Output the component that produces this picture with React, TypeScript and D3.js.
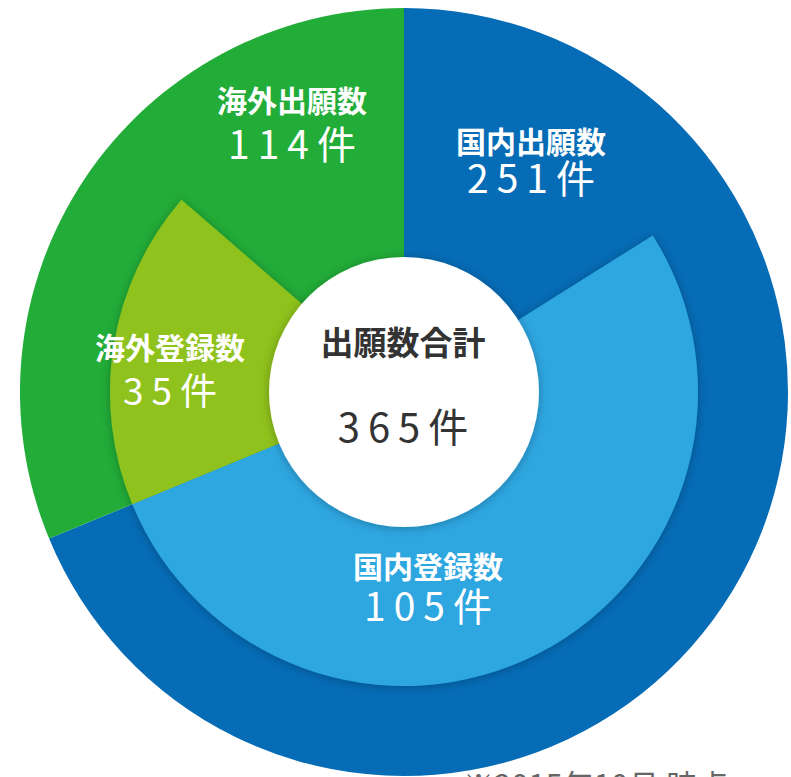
import { useEffect, useRef } from "react";
import * as d3 from "d3";

// applications (outer ring) and registrations (inner ring)
const applicationLabels = ["国内出願数", "海外出願数"];
const applicationValues = [251, 114];
const registrationLabels = ["国内登録数", "海外登録数"];
const registrationValues = [105, 35];
const totalLabel = "出願数合計";
const unit = "件";
const footnote = "※2015年10月 時点";

const outerColors = ["#066cb6", "#22ac38"];
const innerColors = ["#2ea6e0", "#8fc21f"];

export default function App() {
  const svgRef = useRef<SVGSVGElement>(null);
  const width = 791;
  const height = 777;

  useEffect(() => {
    if (!svgRef.current) return;

    const cx = 404;
    const cy = 392;
    const outerR = 384;
    const innerR = 294;
    const holeR = 135;

    d3.select(svgRef.current).selectAll("*").remove();
    const svg = d3
      .select(svgRef.current)
      .attr("width", width)
      .attr("height", height);

    const defs = svg.append("defs");
    const shadow = defs
      .append("filter")
      .attr("id", "shadow")
      .attr("x", "-20%")
      .attr("y", "-20%")
      .attr("width", "140%")
      .attr("height", "140%");
    shadow
      .append("feDropShadow")
      .attr("dx", 0)
      .attr("dy", 1)
      .attr("stdDeviation", 5)
      .attr("flood-color", "#000")
      .attr("flood-opacity", 0.28);

    const g = svg.append("g").attr("transform", `translate(${cx},${cy})`);

    // outer ring: applications
    const pie = d3.pie<number>().sort(null);
    const outerArcs = pie(applicationValues);
    const outerArc = d3
      .arc<d3.PieArcDatum<number>>()
      .innerRadius(0)
      .outerRadius(outerR);

    g.selectAll(".outer")
      .data(outerArcs)
      .enter()
      .append("path")
      .attr("class", "outer")
      .attr("d", outerArc)
      .attr("fill", (_, i) => outerColors[i]);

    // inner ring: registrations, meeting at the domestic/overseas split
    const split = outerArcs[0].endAngle;
    const innerSweep = (253 * Math.PI) / 180;
    const angle = d3
      .scaleLinear()
      .domain([0, d3.sum(registrationValues)])
      .range([0, innerSweep]);

    const innerArcs = [
      { start: split - angle(registrationValues[0]), end: split },
      { start: split, end: split + angle(registrationValues[1]) },
    ];
    const innerArc = d3
      .arc<{ start: number; end: number }>()
      .innerRadius(0)
      .outerRadius(innerR)
      .startAngle((d) => d.start)
      .endAngle((d) => d.end);

    const inner = g.append("g").attr("filter", "url(#shadow)");
    inner
      .selectAll(".inner")
      .data(innerArcs)
      .enter()
      .append("path")
      .attr("class", "inner")
      .attr("d", innerArc)
      .attr("fill", (_, i) => innerColors[i]);

    // white hole
    g.append("circle")
      .attr("r", holeR)
      .attr("fill", "#fff")
      .attr("filter", "url(#shadow)");

    const font = "'Noto Sans CJK JP', 'Noto Sans', sans-serif";
    const spacing = 8;

    const addLabel = (
      name: string,
      value: number,
      x: number,
      y1: number,
      y2: number,
      color: string,
      nameSize: number,
      valueSize: number
    ) => {
      g.append("text")
        .attr("x", x)
        .attr("y", y1)
        .attr("text-anchor", "middle")
        .attr("font-family", font)
        .attr("font-weight", 700)
        .attr("font-size", nameSize)
        .attr("fill", color)
        .text(name);
      g.append("text")
        .attr("x", x + spacing / 2)
        .attr("y", y2)
        .attr("text-anchor", "middle")
        .attr("font-family", font)
        .attr("font-weight", 400)
        .attr("font-size", valueSize)
        .attr("letter-spacing", spacing)
        .attr("fill", color)
        .text(`${value}${unit}`);
    };

    // label placement, relative to the centre
    addLabel(applicationLabels[0], applicationValues[0], 127, -239, -199, "#fff", 30, 39);
    addLabel(applicationLabels[1], applicationValues[1], -112, -280, -233, "#fff", 30, 39);
    addLabel(registrationLabels[0], registrationValues[0], 24, 186, 229, "#fff", 30, 39);
    addLabel(registrationLabels[1], registrationValues[1], -234, -33, 13, "#fff", 30, 37);
    addLabel(totalLabel, d3.sum(applicationValues), -1, -37, 50, "#333", 33, 40);

    svg
      .append("text")
      .attr("x", 463)
      .attr("y", 797)
      .attr("font-family", font)
      .attr("font-size", 31)
      .attr("fill", "#666")
      .text(footnote);
  }, []);

  return (
    <svg
      ref={svgRef}
      style={{ position: "absolute", left: 0, top: 0, display: "block" }}
    />
  );
}
